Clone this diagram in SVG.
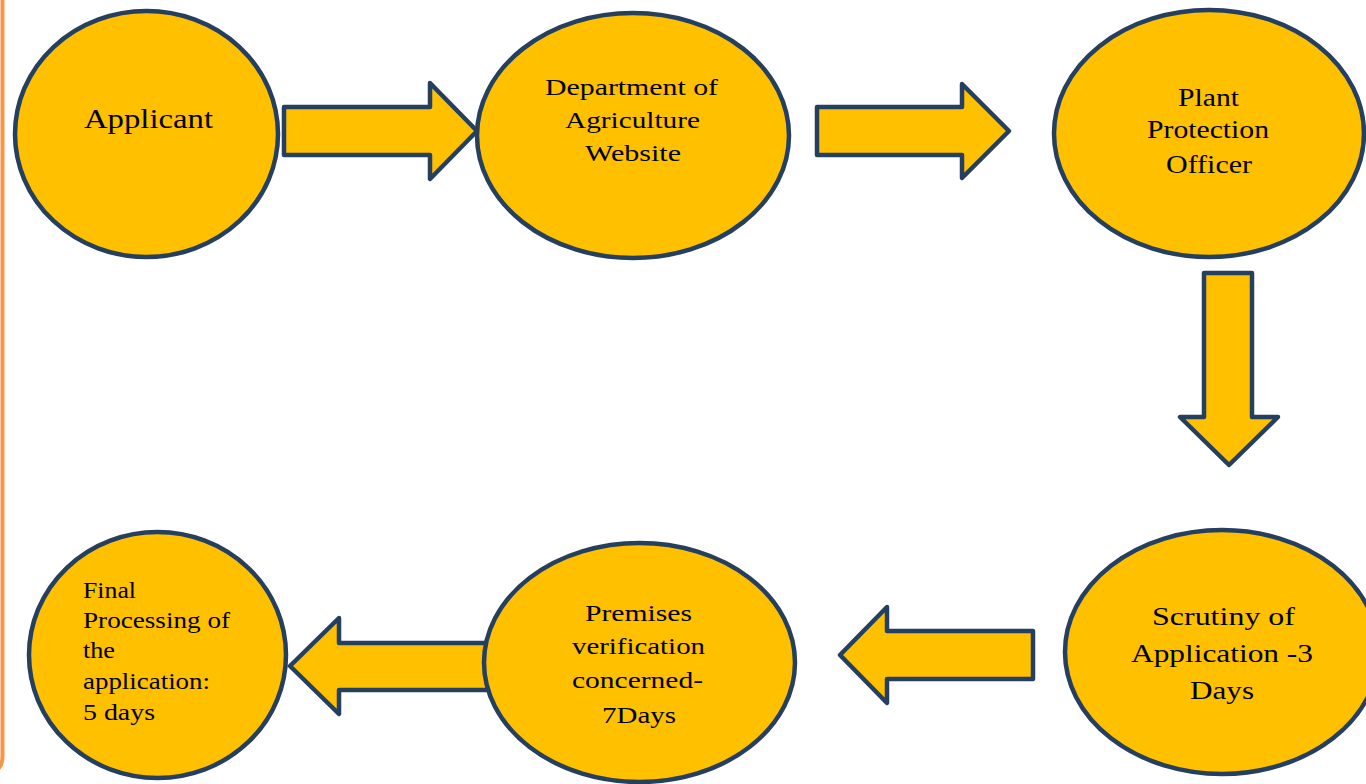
<svg xmlns="http://www.w3.org/2000/svg" width="1366" height="784" viewBox="0 0 1366 784">
<style>
.node{fill:#FFC000;stroke:#243F60;stroke-width:4.5}
.arrow{fill:#FFC000;stroke:#243F60;stroke-width:4.5;stroke-linejoin:round}
text{font-family:"Liberation Serif","Times New Roman",serif;fill:#000}
.t23{font-size:23px}.t24{font-size:24px}.t25{font-size:25px}.t26{font-size:26px}.t27{font-size:27px}
</style>
<rect width="1366" height="784" fill="#fff"/>
<path d="M2.5 0 V756 Q2.5 772 -12 772" fill="none" stroke="#F79646" stroke-width="4"/>
<g id="connectors">
<polygon class="arrow" points="284,107 430,107 430,83 477,131 430,179 430,155 284,155"/>
<polygon class="arrow" points="817,107 962,107 962,84 1009,131 962,178 962,155 817,155"/>
<polygon class="arrow" points="1204,273 1252,273 1252,417 1278,417 1229,465 1180,417 1204,417"/>
<polygon class="arrow" points="1033,631 887,631 887,607 840,655 887,703 887,679 1033,679"/>
<polygon class="arrow" points="520,643 339,643 339,618 290,666 339,714 339,690 520,690"/>
</g>
<g id="applicant">
<ellipse class="node" cx="146.5" cy="134" rx="131.5" ry="123"/>
<text class="t27" x="84" y="128" textLength="129" lengthAdjust="spacingAndGlyphs">Applicant</text>
</g>
<g id="dept">
<ellipse class="node" cx="633" cy="135.5" rx="156" ry="122.5"/>
<text class="t24" x="545" y="95" textLength="173" lengthAdjust="spacingAndGlyphs">Department of</text>
<text class="t24" x="565" y="128" textLength="135" lengthAdjust="spacingAndGlyphs">Agriculture</text>
<text class="t24" x="585" y="161" textLength="96" lengthAdjust="spacingAndGlyphs">Website</text>
</g>
<g id="ppo">
<ellipse class="node" cx="1209" cy="133.5" rx="155" ry="123.5"/>
<text class="t25" x="1178" y="106" textLength="61" lengthAdjust="spacingAndGlyphs">Plant</text>
<text class="t25" x="1147" y="138" textLength="122" lengthAdjust="spacingAndGlyphs">Protection</text>
<text class="t25" x="1166" y="173" textLength="86" lengthAdjust="spacingAndGlyphs">Officer</text>
</g>
<g id="scrutiny">
<ellipse class="node" cx="1222" cy="652" rx="157" ry="122"/>
<text class="t26" x="1152" y="625" textLength="143" lengthAdjust="spacingAndGlyphs">Scrutiny of</text>
<text class="t26" x="1131" y="662" textLength="182" lengthAdjust="spacingAndGlyphs">Application -3</text>
<text class="t26" x="1190" y="699" textLength="64" lengthAdjust="spacingAndGlyphs">Days</text>
</g>
<g id="premises">
<ellipse class="node" cx="639.5" cy="662.5" rx="155.5" ry="119.5"/>
<text class="t23" x="585" y="621" textLength="107" lengthAdjust="spacingAndGlyphs">Premises</text>
<text class="t23" x="572" y="654" textLength="133" lengthAdjust="spacingAndGlyphs">verification</text>
<text class="t23" x="572" y="688" textLength="131" lengthAdjust="spacingAndGlyphs">concerned-</text>
<text class="t23" x="602" y="723" textLength="74" lengthAdjust="spacingAndGlyphs">7Days</text>
</g>
<g id="final">
<ellipse class="node" cx="157.5" cy="655" rx="128.5" ry="123"/>
<text class="t23" x="83" y="598" textLength="53" lengthAdjust="spacingAndGlyphs">Final</text>
<text class="t23" x="83" y="628" textLength="147" lengthAdjust="spacingAndGlyphs">Processing of</text>
<text class="t23" x="83" y="658" textLength="32" lengthAdjust="spacingAndGlyphs">the</text>
<text class="t23" x="83" y="689" textLength="127" lengthAdjust="spacingAndGlyphs">application:</text>
<text class="t23" x="83" y="720" textLength="72" lengthAdjust="spacingAndGlyphs">5 days</text>
</g>
</svg>
